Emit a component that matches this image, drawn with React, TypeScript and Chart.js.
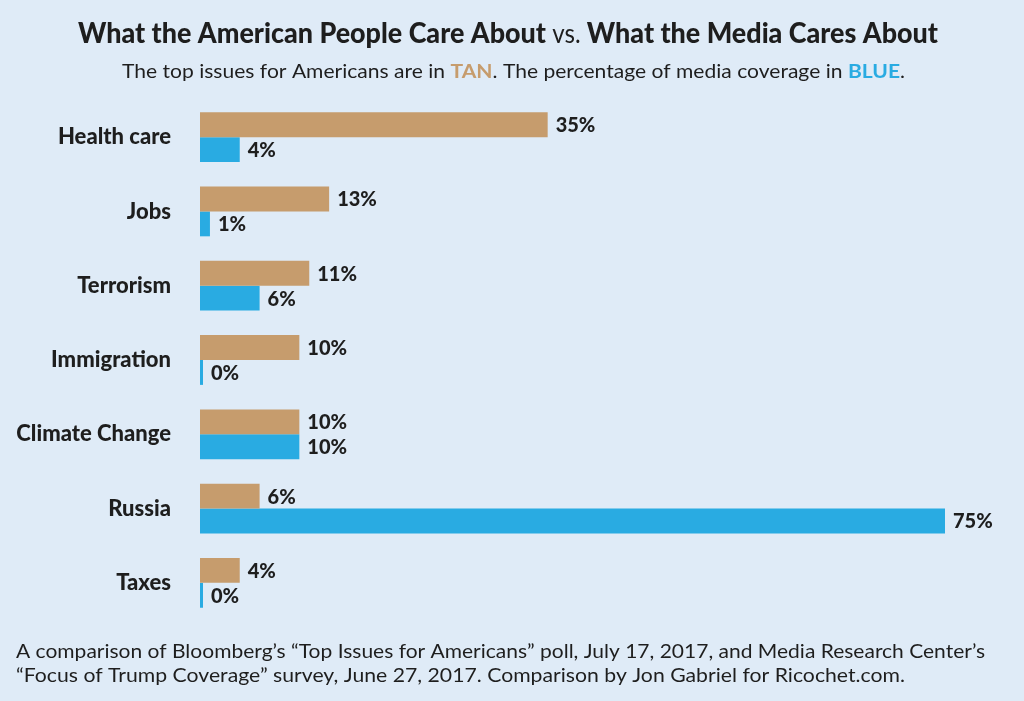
import React, { useEffect, useRef } from "react";
import { Chart, registerables } from "chart.js";
Chart.register(...registerables);

const categories = ["Health care", "Jobs", "Terrorism", "Immigration", "Climate Change", "Russia", "Taxes"];
const publicConcern = [35, 13, 11, 10, 10, 6, 4];
const mediaCoverage = [4, 1, 6, 0, 10, 75, 0];

const TAN = "#c69c6d";
const BLUE = "#29abe2";
const BG = "#dfebf7";
const INK = "#1e1e1e";
const FONT = "Lato, 'Open Sans', sans-serif";

type Run = { text: string; font: string; color: string };

function drawRich(ctx: CanvasRenderingContext2D, runs: Run[], x0: number, baseline: number, targetW: number) {
  let natural = 0;
  for (const r of runs) {
    ctx.font = r.font;
    natural += ctx.measureText(r.text).width;
  }
  const s = targetW / natural;
  ctx.save();
  ctx.translate(x0, baseline);
  ctx.scale(s, 1);
  ctx.textBaseline = "alphabetic";
  ctx.textAlign = "left";
  let cx = 0;
  for (const r of runs) {
    ctx.font = r.font;
    ctx.fillStyle = r.color;
    ctx.fillText(r.text, cx, 0);
    cx += ctx.measureText(r.text).width;
  }
  ctx.restore();
}

const decorPlugin = {
  id: "decor",
  beforeDraw(chart: any) {
    const ctx = chart.ctx as CanvasRenderingContext2D;
    ctx.save();
    ctx.fillStyle = BG;
    ctx.fillRect(0, 0, chart.width, chart.height);
    ctx.restore();
  },
  afterDraw(chart: any) {
    const ctx = chart.ctx as CanvasRenderingContext2D;
    const tb = `900 29px ${FONT}`;
    const tr = `26px ${FONT}`;
    drawRich(ctx, [
      { text: "What the American People Care About ", font: tb, color: INK },
      { text: "vs. ", font: tr, color: INK },
      { text: "What the Media Cares About", font: tb, color: INK },
    ], 78, 43, 860);
    const sr = `19px ${FONT}`;
    const sb = `bold 19px ${FONT}`;
    drawRich(ctx, [
      { text: "The top issues for Americans are in ", font: sr, color: INK },
      { text: "TAN", font: sb, color: TAN },
      { text: ". The percentage of media coverage in ", font: sr, color: INK },
      { text: "BLUE", font: sb, color: BLUE },
      { text: ".", font: sr, color: INK },
    ], 122, 78, 783);
    drawRich(ctx, [
      { text: "A comparison of Bloomberg\u2019s \u201cTop Issues for Americans\u201d poll, July 17, 2017, and Media Research Center\u2019s", font: sr, color: INK },
    ], 16, 658, 969);
    drawRich(ctx, [
      { text: "\u201cFocus of Trump Coverage\u201d survey, June 27, 2017. Comparison by Jon Gabriel for Ricochet.com.", font: sr, color: INK },
    ], 16, 682, 889);
  },
  afterDatasetsDraw(chart: any) {
    const ctx = chart.ctx as CanvasRenderingContext2D;
    ctx.save();
    ctx.font = `900 20px ${FONT}`;
    ctx.fillStyle = INK;
    ctx.textBaseline = "middle";
    ctx.textAlign = "left";
    chart.data.datasets.forEach((ds: any, di: number) => {
      const meta = chart.getDatasetMeta(di);
      meta.data.forEach((el: any, i: number) => {
        ctx.fillText(`${ds.data[i]}%`, el.x + 8, el.y + 1);
      });
    });
    ctx.restore();
  },
};

export default function App() {
  const ref = useRef<HTMLCanvasElement | null>(null);
  useEffect(() => {
    if (!ref.current) return;
    const chart = new Chart(ref.current, {
      type: "bar",
      data: {
        labels: categories,
        datasets: [
          {
            label: "Top issues for Americans",
            data: publicConcern,
            backgroundColor: TAN,
            barPercentage: 1,
            categoryPercentage: 0.67,
          },
          {
            label: "Media coverage",
            data: mediaCoverage,
            backgroundColor: BLUE,
            barPercentage: 1,
            categoryPercentage: 0.67,
            minBarLength: 3,
          },
        ],
      },
      options: {
        indexAxis: "y",
        responsive: false,
        animation: false,
        layout: { padding: { top: 100, bottom: 81, right: 79, left: 0 } },
        plugins: { legend: { display: false }, tooltip: { enabled: false }, title: { display: false } },
        scales: {
          x: { display: false, min: 0, max: 75 },
          y: {
            grid: { display: false, drawTicks: false },
            border: { display: false },
            ticks: { font: { family: FONT, size: 22, weight: "900" }, color: INK, padding: 29 },
            afterFit: (s: any) => { s.width = 200; },
          },
        },
      },
      plugins: [decorPlugin],
    } as any);
    return () => chart.destroy();
  }, []);
  return (
    <div style={{ position: "fixed", left: 0, top: 0, width: 1024, height: 701, background: BG }}>
      <canvas ref={ref} width={1024} height={701} style={{ display: "block" }} />
    </div>
  );
}
